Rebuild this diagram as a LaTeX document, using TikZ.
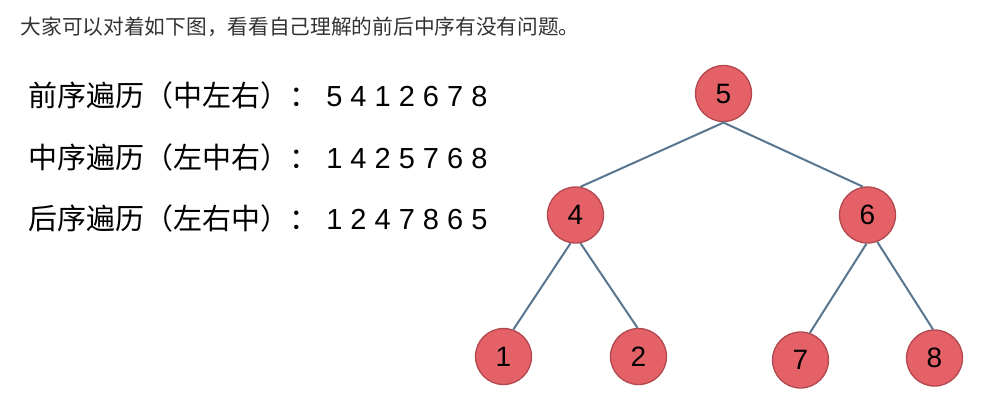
\documentclass[tikz,border=0pt]{standalone}
\usepackage{fontspec}
\setmainfont{Liberation Sans}
\newfontfamily\cjk{Noto Sans CJK SC}
\definecolor{nodefill}{RGB}{229,97,104}
\definecolor{nodeborder}{RGB}{178,72,78}
\definecolor{edgecol}{RGB}{88,118,143}
\definecolor{toptext}{RGB}{51,51,51}
\begin{document}
\begin{tikzpicture}[x=1pt,y=-1pt,
  treenode/.style={circle,fill=nodefill,draw=nodeborder,line width=1.3pt,minimum size=56pt,inner sep=0pt,font=\fontsize{28}{28}\selectfont},
  treeedge/.style={draw=edgecol,line width=2pt},
  listline/.style={anchor=base west,inner sep=0pt,font=\fontsize{29}{29}\selectfont},
]
\useasboundingbox[fill=white] (0,0) rectangle (984,400);
\node[anchor=base west,inner sep=0pt,text=toptext,font=\cjk\fontsize{20.7}{20.7}\selectfont] (title) at (20.5,34.5) {大家可以对着如下图，看看自己理解的前后中序有没有问题。};
\node[listline] (pre) at (28,106) {{\cjk 前序遍历（中左右）：}\ 5 4 1 2 6 7 8};
\node[listline] (in) at (28,168) {{\cjk 中序遍历（左中右）：}\ 1 4 2 5 7 6 8};
\node[listline] (post) at (28,229) {{\cjk 后序遍历（左右中）：}\ 1 2 4 7 8 6 5};

\node[treenode] (n5) at (723.5,93.5) {5};
\node[treenode] (n4) at (575.5,215) {4};
\node[treenode] (n6) at (867.5,215) {6};
\node[treenode] (n1) at (503.5,356.5) {1};
\node[treenode] (n2) at (638.5,356.5) {2};
\node[treenode] (n7) at (800.5,360) {7};
\node[treenode] (n8) at (934.5,358) {8};

\draw[treeedge] (n5.272) -- (n4.80);
\draw[treeedge] (n5.268) -- (n6.99);
\draw[treeedge] (n4.260) -- (n1.70);
\draw[treeedge] (n4.280) -- (n2.92);
\draw[treeedge] (n6.268) -- (n7.71);
\draw[treeedge] (n6.290) -- (n8.93);
\end{tikzpicture}
\end{document}
